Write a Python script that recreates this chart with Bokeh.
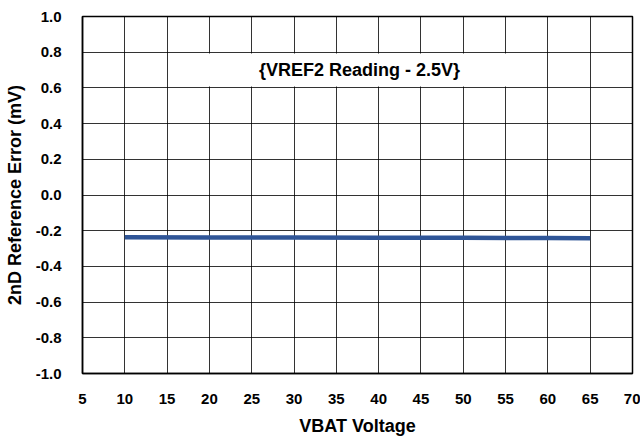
from bokeh.plotting import figure
from bokeh.models import FixedTicker, Label, Range1d
from bokeh.embed import file_html
from bokeh.resources import INLINE

# ---- data ----
vbat = [10, 20, 30, 40, 50, 60, 65]
ref_error = [-0.237, -0.238, -0.238, -0.239, -0.240, -0.241, -0.242]

x_ticks = [5, 10, 15, 20, 25, 30, 35, 40, 45, 50, 55, 60, 65, 70]
y_ticks = [-1.0, -0.8, -0.6, -0.4, -0.2, 0.0, 0.2, 0.4, 0.6, 0.8, 1.0]
y_tick_labels = ["-1.0", "-0.8", "-0.6", "-0.4", "-0.2", "0.0", "0.2", "0.4", "0.6", "0.8", "1.0"]

annotation_text = "{VREF2 Reading - 2.5V}"
annotation_x = 37.5
annotation_y = 0.70

FONT = "Liberation Sans"

p = figure(
    width=640, height=438,
    min_border_left=82, min_border_right=8, min_border_top=16, min_border_bottom=64,
    x_range=Range1d(5, 70), y_range=Range1d(-1.0, 1.0),
    output_backend="svg", toolbar_location=None,
    background_fill_color="white", border_fill_color="white",
)

# white box behind the annotation (covers grid lines)
p.rect(x=[annotation_x], y=[annotation_y], width=310, height=33,
       width_units="screen", height_units="screen",
       fill_color="white", line_color=None)

p.line(vbat, ref_error, line_color="#2F5597", line_width=4.5)

# axes
p.xaxis.ticker = FixedTicker(ticks=x_ticks)
p.yaxis.ticker = FixedTicker(ticks=y_ticks)
p.yaxis.major_label_overrides = {t: s for t, s in zip(y_ticks, y_tick_labels)}
p.xaxis.major_label_overrides = {t: str(t) for t in x_ticks}

for ax in (p.xaxis[0], p.yaxis[0]):
    ax.major_tick_line_color = None
    ax.minor_tick_line_color = None
    ax.axis_line_color = "black"
    ax.axis_line_width = 1.5
    ax.major_label_text_font = FONT
    ax.major_label_text_font_style = "bold"
    ax.major_label_text_font_size = "15px"
    ax.major_label_text_color = "black"
    ax.axis_label_text_font = FONT
    ax.axis_label_text_font_style = "bold"
    ax.axis_label_text_font_size = "18px"
    ax.axis_label_text_color = "black"

p.xaxis.axis_label = "VBAT Voltage"
p.yaxis.axis_label = "2nD Reference Error (mV)"
p.xaxis.major_label_standoff = 14
p.yaxis.major_label_standoff = 15
p.xaxis.axis_label_standoff = 9
p.yaxis.axis_label_standoff = 8

# grid
p.xgrid.ticker = FixedTicker(ticks=x_ticks)
p.ygrid.ticker = FixedTicker(ticks=y_ticks)
for g in (p.xgrid[0], p.ygrid[0]):
    g.grid_line_color = "black"
    g.grid_line_width = 1
    g.grid_line_alpha = 0.8

p.outline_line_color = "black"
p.outline_line_width = 1.5
p.outline_line_alpha = 1.0

label = Label(
    x=annotation_x, y=annotation_y, text=annotation_text,
    x_offset=2,
    text_align="center", text_baseline="middle",
    text_font=FONT, text_font_style="bold", text_font_size="18px",
    text_color="black",
)
p.add_layout(label)

open("out.html", "w").write(file_html(p, INLINE))
